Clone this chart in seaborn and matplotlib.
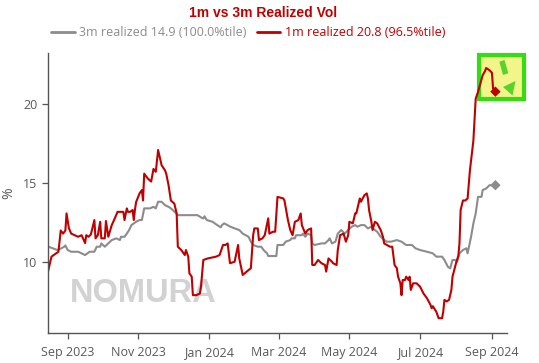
import matplotlib
matplotlib.use("Agg")
import matplotlib.pyplot as plt
import matplotlib.dates as mdates
from matplotlib.patches import Rectangle, Polygon
from matplotlib.lines import Line2D
import pandas as pd
import seaborn as sns

# ---------------- data ----------------
title = "1m vs 3m Realized Vol"
label_3m = "3m realized 14.9 (100.0%tile)"
label_1m = "1m realized 20.8 (96.5%tile)"

dates_1m = [
    "2023-08-15", "2023-08-18", "2023-08-21", "2023-08-24", "2023-08-26", "2023-08-28", "2023-08-30", "2023-08-31",
    "2023-09-02", "2023-09-04", "2023-09-07", "2023-09-10", "2023-09-13", "2023-09-16", "2023-09-17", "2023-09-19",
    "2023-09-21", "2023-09-24", "2023-09-25", "2023-09-27", "2023-09-29", "2023-09-30", "2023-10-03", "2023-10-04",
    "2023-10-06", "2023-10-09", "2023-10-11", "2023-10-14", "2023-10-19", "2023-10-20", "2023-10-22", "2023-10-23",
    "2023-10-25", "2023-10-27", "2023-10-28", "2023-10-29", "2023-10-30", "2023-11-02", "2023-11-04", "2023-11-05",
    "2023-11-06", "2023-11-09", "2023-11-12", "2023-11-14", "2023-11-16", "2023-11-18", "2023-11-21", "2023-11-24",
    "2023-11-25", "2023-11-27", "2023-11-29", "2023-12-02", "2023-12-04", "2023-12-05", "2023-12-08", "2023-12-11",
    "2023-12-12", "2023-12-14", "2023-12-15", "2023-12-17", "2023-12-18", "2023-12-21", "2023-12-24", "2023-12-25",
    "2023-12-27", "2023-12-31", "2024-01-07", "2024-01-10", "2024-01-13", "2024-01-15", "2024-01-17", "2024-01-19",
    "2024-01-23", "2024-01-26", "2024-01-27", "2024-01-30", "2024-02-04", "2024-02-06", "2024-02-08", "2024-02-09",
    "2024-02-12", "2024-02-13", "2024-02-16", "2024-02-18", "2024-02-21", "2024-02-22", "2024-02-25", "2024-02-27",
    "2024-02-29", "2024-03-05", "2024-03-06", "2024-03-09", "2024-03-11", "2024-03-13", "2024-03-15", "2024-03-18",
    "2024-03-20", "2024-03-21", "2024-03-24", "2024-03-26", "2024-03-29", "2024-03-30", "2024-04-01", "2024-04-04",
    "2024-04-07", "2024-04-10", "2024-04-11", "2024-04-13", "2024-04-16", "2024-04-17", "2024-04-20", "2024-04-21",
    "2024-04-23", "2024-04-26", "2024-04-28", "2024-04-30", "2024-05-01", "2024-05-04", "2024-05-06", "2024-05-07",
    "2024-05-10", "2024-05-11", "2024-05-14", "2024-05-16", "2024-05-17", "2024-05-18", "2024-05-20", "2024-05-21",
    "2024-05-23", "2024-05-25", "2024-05-28", "2024-05-30", "2024-05-31", "2024-06-05", "2024-06-07", "2024-06-09",
    "2024-06-11", "2024-06-12", "2024-06-14", "2024-06-15", "2024-06-16", "2024-06-18", "2024-06-19", "2024-06-21",
    "2024-06-22", "2024-06-23", "2024-06-25", "2024-06-28", "2024-07-01", "2024-07-04", "2024-07-07", "2024-07-10",
    "2024-07-11", "2024-07-12", "2024-07-15", "2024-07-17", "2024-07-20", "2024-07-21", "2024-07-22", "2024-07-24",
    "2024-07-26", "2024-07-28", "2024-07-29", "2024-08-01", "2024-08-03", "2024-08-04", "2024-08-05", "2024-08-07",
    "2024-08-09", "2024-08-11", "2024-08-13", "2024-08-16", "2024-08-18", "2024-08-20", "2024-08-24", "2024-08-26",
    "2024-08-27", "2024-08-30", "2024-09-01", "2024-09-02", "2024-09-04",
]
vals_1m = [
    9.39, 10.34, 10.5, 10.65, 12.0, 11.8, 12.0, 13.08,
    12.15, 11.8, 11.7, 11.6, 11.7, 11.2, 11.7, 11.6,
    11.75, 12.66, 11.5, 11.7, 12.55, 11.5, 11.5, 12.6,
    11.6, 12.34, 12.66, 13.18, 13.18, 12.66, 13.4, 13.18,
    13.18, 13.3, 12.66, 13.3, 13.8, 14.35, 14.56, 13.9,
    15.6, 15.3, 15.1, 15.9, 15.72, 17.1, 16.14, 15.8,
    15.6, 14.87, 13.9, 13.7, 13.08, 10.97, 10.76, 10.44,
    10.76, 10.34, 9.28, 9.07, 7.9, 7.9, 8.0, 8.44,
    10.13, 10.23, 10.34, 10.44, 11.08, 11.08, 11.18, 9.92,
    10.02, 11.08, 10.23, 9.18, 9.49, 9.6, 11.7, 12.13,
    12.13, 11.39, 11.5, 11.7, 12.77, 11.8, 11.92, 11.92,
    14.13, 14.03, 13.9, 12.66, 12.03, 11.7, 12.55, 12.66,
    13.08, 12.34, 11.8, 12.03, 12.13, 9.81, 9.81, 10.13,
    9.92, 9.81, 9.39, 10.23, 10.02, 9.92, 9.81, 10.76,
    11.7, 11.8, 11.29, 11.7, 12.55, 12.45, 13.08, 13.08,
    14.03, 13.82, 14.24, 14.35, 14.03, 13.29, 12.55, 12.03,
    12.55, 12.45, 12.03, 11.6, 11.18, 10.97, 10.97, 9.81,
    9.6, 9.07, 8.65, 7.9, 8.86, 8.86, 9.07, 8.86,
    9.07, 8.23, 8.65, 8.65, 8.44, 8.0, 7.7, 7.28,
    7.07, 7.2, 6.85, 6.44, 6.44, 6.85, 7.6, 7.5,
    7.6, 8.23, 9.07, 9.92, 10.4, 11.18, 13.3, 13.9,
    13.9, 14.03, 15.8, 17.7, 20.36, 20.78, 21.84, 22.1,
    22.3, 22.15, 22.0, 21.0, 20.8,
]

dates_3m = [
    "2023-08-15", "2023-08-18", "2023-08-23", "2023-08-26", "2023-08-29", "2023-08-30", "2023-09-01", "2023-09-04",
    "2023-09-10", "2023-09-13", "2023-09-16", "2023-09-18", "2023-09-20", "2023-09-24", "2023-09-26", "2023-09-29",
    "2023-09-30", "2023-10-03", "2023-10-06", "2023-10-09", "2023-10-13", "2023-10-16", "2023-10-17", "2023-10-20",
    "2023-10-22", "2023-10-24", "2023-10-26", "2023-10-30", "2023-11-02", "2023-11-04", "2023-11-06", "2023-11-11",
    "2023-11-14", "2023-11-16", "2023-11-18", "2023-11-21", "2023-11-24", "2023-11-27", "2023-11-29", "2023-12-02",
    "2023-12-04", "2023-12-05", "2023-12-22", "2023-12-25", "2023-12-27", "2023-12-28", "2023-12-30", "2024-01-04",
    "2024-01-08", "2024-01-11", "2024-01-12", "2024-01-14", "2024-01-19", "2024-01-23", "2024-01-27", "2024-01-30",
    "2024-02-04", "2024-02-06", "2024-02-08", "2024-02-12", "2024-02-15", "2024-02-17", "2024-02-20", "2024-02-21",
    "2024-02-28", "2024-02-29", "2024-03-05", "2024-03-07", "2024-03-11", "2024-03-12", "2024-03-15", "2024-03-16",
    "2024-03-21", "2024-03-22", "2024-03-24", "2024-03-26", "2024-03-29", "2024-03-30", "2024-04-01", "2024-04-07",
    "2024-04-10", "2024-04-13", "2024-04-14", "2024-04-16", "2024-04-19", "2024-04-21", "2024-04-24", "2024-04-27",
    "2024-04-30", "2024-05-03", "2024-05-06", "2024-05-08", "2024-05-11", "2024-05-14", "2024-05-17", "2024-05-20",
    "2024-05-23", "2024-05-25", "2024-05-28", "2024-06-02", "2024-06-06", "2024-06-11", "2024-06-15", "2024-06-19",
    "2024-06-24", "2024-06-27", "2024-07-01", "2024-07-07", "2024-07-12", "2024-07-15", "2024-07-20", "2024-07-22",
    "2024-07-25", "2024-07-27", "2024-07-29", "2024-07-31", "2024-08-02", "2024-08-04", "2024-08-07", "2024-08-10",
    "2024-08-11", "2024-08-14", "2024-08-16", "2024-08-18", "2024-08-20", "2024-08-23", "2024-08-24", "2024-08-27",
    "2024-08-30", "2024-09-04",
]
vals_3m = [
    10.97, 10.9, 10.76, 10.85, 10.97, 11.05, 10.76, 10.65,
    10.65, 10.55, 10.44, 10.55, 10.65, 10.65, 10.97, 10.97,
    11.18, 10.97, 11.18, 11.39, 11.5, 11.39, 11.6, 11.6,
    11.8, 12.03, 12.34, 12.55, 12.66, 12.66, 13.4, 13.4,
    13.5, 13.4, 13.82, 13.82, 13.6, 13.5, 13.4, 13.2,
    13.04, 12.97, 12.97, 12.83, 12.76, 12.9, 12.66, 12.55,
    12.34, 12.2, 12.34, 12.45, 12.25, 12.13, 12.03, 11.8,
    11.6, 11.29, 11.08, 10.97, 10.97, 10.76, 10.55, 10.38,
    10.38, 11.08, 11.08, 11.29, 11.39, 11.5, 11.5, 11.7,
    11.7, 11.8, 11.6, 11.8, 11.7, 11.18, 11.08, 11.18,
    11.18, 11.39, 11.5, 11.18, 11.29, 11.8, 12.03, 11.8,
    12.03, 12.24, 12.34, 12.24, 12.34, 12.34, 12.13, 12.24,
    12.03, 11.92, 11.6, 11.29, 11.29, 11.39, 11.29, 11.08,
    11.08, 10.87, 10.76, 10.65, 10.55, 10.34, 10.34, 10.13,
    9.7, 9.6, 10.13, 10.13, 10.02, 10.55, 10.76, 10.87,
    10.55, 11.6, 12.45, 13.08, 14.13, 14.13, 14.56, 14.66,
    14.87, 14.87,
]

x_start, x_end = "2023-08-15", "2024-09-14"
y_min, y_max = 5.5, 23.25
y_ticks = [10, 15, 20]
watermark = "NOMURA"

# ---------------- styling ----------------
GRAY = "#8c8c8c"
RED = "#c00000"
TXT = "#595959"

sns.set_theme(style="ticks")
plt.rcParams["font.family"] = ["Open Sans", "DejaVu Sans"]

df = pd.concat([
    pd.DataFrame({"date": pd.to_datetime(dates_3m), "vol": vals_3m, "series": label_3m}),
    pd.DataFrame({"date": pd.to_datetime(dates_1m), "vol": vals_1m, "series": label_1m}),
], ignore_index=True)
last = df.groupby("series", sort=False).tail(1)

W, H = 539, 363
fig = plt.figure(figsize=(W / 100, H / 100), dpi=100)
ax = fig.add_axes([48 / W, 1 - 333 / H, (507 - 48) / W, (333 - 53) / H])

# watermark
ax.text(0.208, 0.14, watermark, transform=ax.transAxes, fontsize=23.5,
        fontweight="bold", color="#d2d2d2", ha="center", va="center",
        family=["Liberation Sans", "DejaVu Sans"], zorder=0.5)

# highlight box (figure pixel based)
def fx(px):
    return px / W

def fy(py):
    return 1 - py / H

box = Rectangle((fx(478.5), fy(99)), fx(523.5) - fx(478.5), fy(55) - fy(99),
                transform=fig.transFigure, facecolor="#f3f58a", edgecolor="#33dd11",
                linewidth=3, clip_on=False, zorder=1.5)
ax.add_patch(box)
bar = Polygon([(fx(499.3), fy(61.7)), (fx(504.5), fy(60)), (fx(508.3), fy(73.3)), (fx(503), fy(75))],
              closed=True, transform=fig.transFigure, facecolor="#55d42a", edgecolor="none",
              clip_on=False, zorder=1.6)
tri = Polygon([(fx(503), fy(87)), (fx(515.5), fy(81)), (fx(512.5), fy(95.5))],
              closed=True, transform=fig.transFigure, facecolor="#55d42a", edgecolor="none",
              clip_on=False, zorder=1.6)
ax.add_patch(bar)
ax.add_patch(tri)

palette = {label_3m: GRAY, label_1m: RED}
sns.lineplot(data=df, x="date", y="vol", hue="series", palette=palette,
             estimator=None, linewidth=1.5, legend=False, ax=ax, zorder=2)
sns.scatterplot(data=last, x="date", y="vol", hue="series", palette=palette,
                marker="D", s=28, edgecolor="none", legend=False, ax=ax, zorder=3)

ax.set_xlim(pd.Timestamp(x_start), pd.Timestamp(x_end))
ax.set_ylim(y_min, y_max)
ax.set_yticks(y_ticks)
ax.xaxis.set_major_locator(mdates.MonthLocator(bymonth=[1, 3, 5, 7, 9, 11]))
ax.xaxis.set_major_formatter(mdates.DateFormatter("%b %Y"))
ax.set_xlabel("")
ax.set_ylabel("%", fontsize=10, color=TXT, labelpad=5)

sns.despine(ax=ax)
for side in ("left", "bottom"):
    ax.spines[side].set_color("#555555")
    ax.spines[side].set_linewidth(1.0)
ax.tick_params(axis="both", colors="#555555", labelcolor=TXT, labelsize=9,
               length=4.5, width=0.9, pad=3)
ax.tick_params(axis="x", pad=5)
ax.grid(False)

fig.text(263 / W, 1 - 13 / H, title, ha="center", va="center", fontsize=10,
         fontweight="bold", color=RED, family=["Liberation Sans", "DejaVu Sans"])

handles = [Line2D([0], [0], color=GRAY, lw=2), Line2D([0], [0], color=RED, lw=2)]
leg = fig.legend(handles, [label_3m, label_1m], loc="center", ncol=2, frameon=False,
                 bbox_to_anchor=(248 / W, 1 - 33 / H), fontsize=9,
                 handlelength=1.9, handletextpad=0.35, columnspacing=0.8,
                 borderaxespad=0, borderpad=0)
for t, c in zip(leg.get_texts(), [GRAY, RED]):
    t.set_color(c)

fig.savefig("out.png", dpi=100)
